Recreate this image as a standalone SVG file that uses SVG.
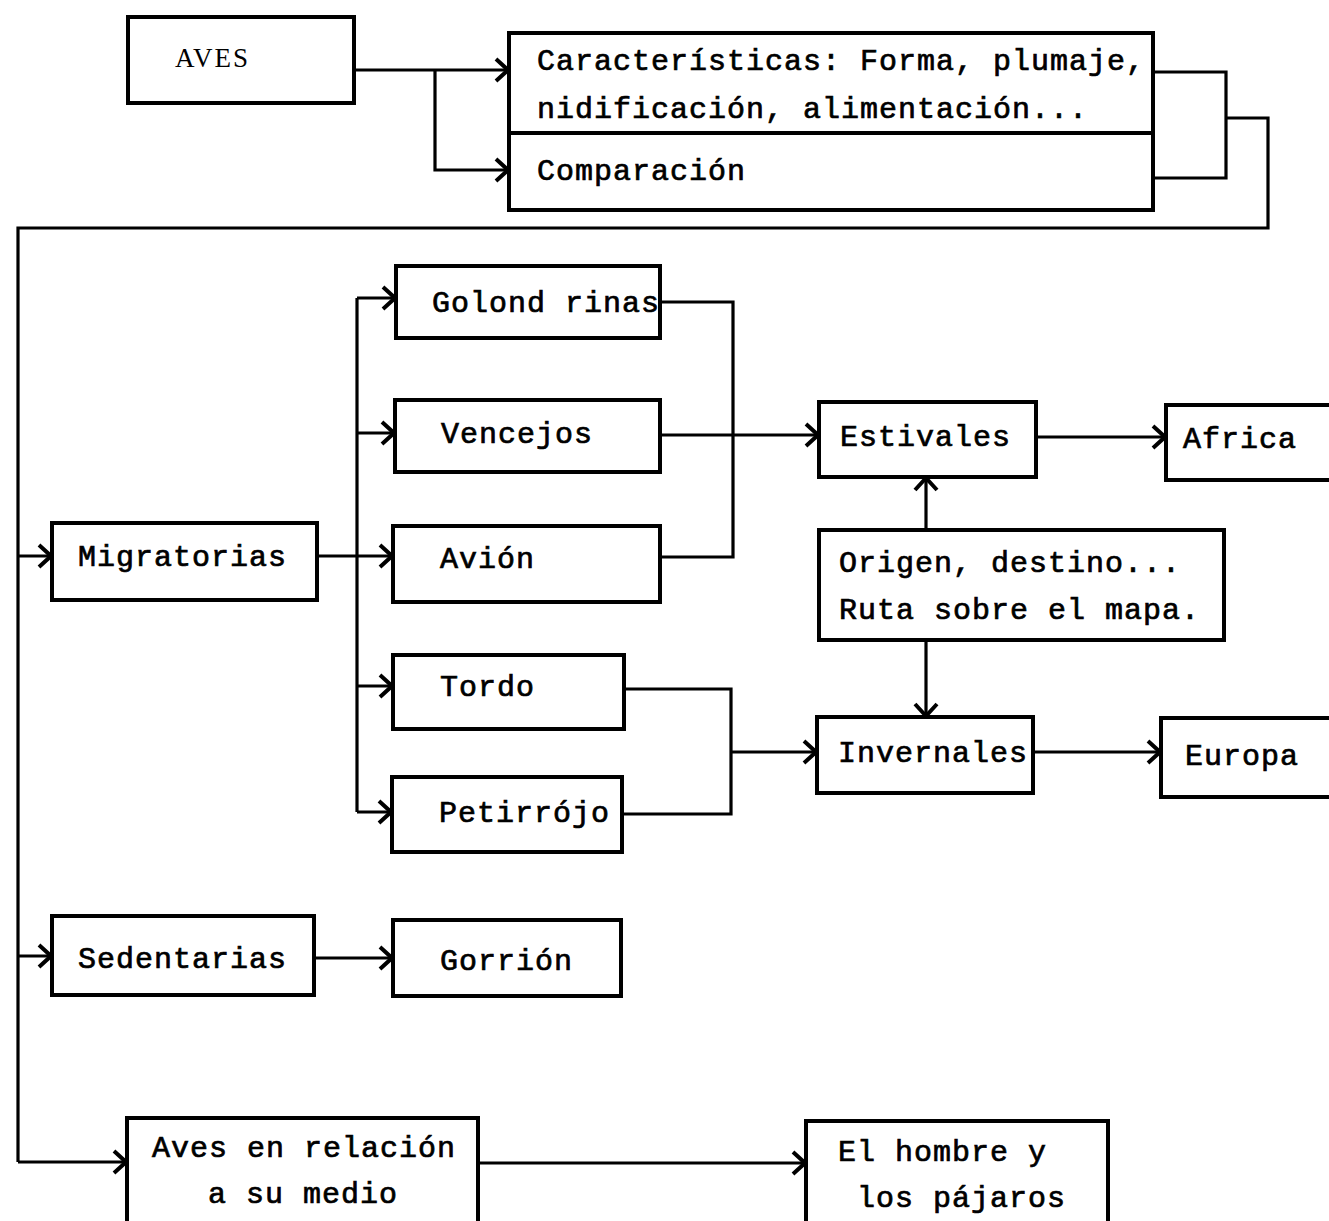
<svg xmlns="http://www.w3.org/2000/svg" width="1329" height="1221" viewBox="0 0 1329 1221">
<style>
.box{fill:#fff;stroke:#000;stroke-width:4}
.t{font-family:"Liberation Mono","Courier New",monospace;font-size:30px;letter-spacing:1px;fill:#000;stroke:#000;stroke-width:0.7}
.s{font-family:"Liberation Serif","Times New Roman",serif;font-size:27px;letter-spacing:2px;fill:#000}
.c{fill:none;stroke:#000;stroke-width:3.2}
</style>
<defs>
<marker id="ah" markerUnits="userSpaceOnUse" markerWidth="18" markerHeight="26" viewBox="0 0 18 26" refX="16" refY="13" orient="auto">
<path d="M4,2 L16,13 L4,24" fill="none" stroke="#000" stroke-width="4"/>
</marker>
</defs>
<rect width="1329" height="1221" fill="#fff"/>
<g id="connectors">
<path class="c" d="M354,70 H508" marker-end="url(#ah)"/>
<path class="c" d="M435,70 V170 H508" marker-end="url(#ah)"/>
<path class="c" d="M1153,72 H1226 V178 H1153"/>
<path class="c" d="M1226,118 H1268 V228 H18 V1162"/>
<path class="c" d="M18,556 H51" marker-end="url(#ah)"/>
<path class="c" d="M18,956 H51" marker-end="url(#ah)"/>
<path class="c" d="M18,1162 H126" marker-end="url(#ah)"/>
<path class="c" d="M317,556 H392" marker-end="url(#ah)"/>
<path class="c" d="M357,298 V812"/>
<path class="c" d="M357,298 H395" marker-end="url(#ah)"/>
<path class="c" d="M357,433 H394" marker-end="url(#ah)"/>
<path class="c" d="M357,686 H392" marker-end="url(#ah)"/>
<path class="c" d="M357,812 H391" marker-end="url(#ah)"/>
<path class="c" d="M660,302 H733 V557 H660"/>
<path class="c" d="M660,435 H818" marker-end="url(#ah)"/>
<path class="c" d="M1036,437 H1165" marker-end="url(#ah)"/>
<path class="c" d="M926,530 V478" marker-end="url(#ah)"/>
<path class="c" d="M926,640 V716" marker-end="url(#ah)"/>
<path class="c" d="M624,689 H731 V814 H622"/>
<path class="c" d="M731,752 H816" marker-end="url(#ah)"/>
<path class="c" d="M1033,752 H1160" marker-end="url(#ah)"/>
<path class="c" d="M314,958 H392" marker-end="url(#ah)"/>
<path class="c" d="M478,1163 H805" marker-end="url(#ah)"/>
</g>
<g id="aves"><rect class="box" x="128" y="17" width="226" height="86"/><text class="s" x="175" y="67">AVES</text></g>
<g id="caracteristicas"><rect class="box" x="509" y="33" width="644" height="177"/><line x1="509" y1="133" x2="1153" y2="133" stroke="#000" stroke-width="4"/>
<text class="t" x="537" y="70">Características: Forma, plumaje,</text>
<text class="t" x="537" y="118">nidificación, alimentación...</text>
<text class="t" x="537" y="180">Comparación</text></g>
<g id="migratorias"><rect class="box" x="52" y="523" width="265" height="77"/><text class="t" x="78" y="566">Migratorias</text></g>
<g id="golondrinas"><rect class="box" x="396" y="266" width="264" height="72"/><text class="t" x="432" y="312">Golond rinas</text></g>
<g id="vencejos"><rect class="box" x="395" y="400" width="265" height="72"/><text class="t" x="441" y="443">Vencejos</text></g>
<g id="avion"><rect class="box" x="393" y="526" width="267" height="76"/><text class="t" x="440" y="568">Avión</text></g>
<g id="tordo"><rect class="box" x="393" y="655" width="231" height="74"/><text class="t" x="440" y="696">Tordo</text></g>
<g id="petirrojo"><rect class="box" x="392" y="777" width="230" height="75"/><text class="t" x="439" y="822">Petirrójo</text></g>
<g id="estivales"><rect class="box" x="819" y="402" width="217" height="75"/><text class="t" x="840" y="446">Estivales</text></g>
<g id="africa"><rect class="box" x="1166" y="405" width="175" height="75"/><text class="t" x="1183" y="448">Africa</text></g>
<g id="origen"><rect class="box" x="819" y="530" width="405" height="110"/>
<text class="t" x="839" y="572">Origen, destino...</text>
<text class="t" x="839" y="619">Ruta sobre el mapa.</text></g>
<g id="invernales"><rect class="box" x="817" y="717" width="216" height="76"/><text class="t" x="838" y="762">Invernales</text></g>
<g id="europa"><rect class="box" x="1161" y="718" width="180" height="79"/><text class="t" x="1185" y="765">Europa</text></g>
<g id="sedentarias"><rect class="box" x="52" y="916" width="262" height="79"/><text class="t" x="78" y="968">Sedentarias</text></g>
<g id="gorrion"><rect class="box" x="393" y="920" width="228" height="76"/><text class="t" x="440" y="970">Gorrión</text></g>
<g id="relacion"><rect class="box" x="127" y="1118" width="351" height="110"/>
<text class="t" x="152" y="1157">Aves en relación</text>
<text class="t" x="208" y="1203">a su medio</text></g>
<g id="hombre"><rect class="box" x="806" y="1121" width="302" height="110"/>
<text class="t" x="838" y="1161">El hombre y</text>
<text class="t" x="857" y="1207">los pájaros</text></g>
</svg>
